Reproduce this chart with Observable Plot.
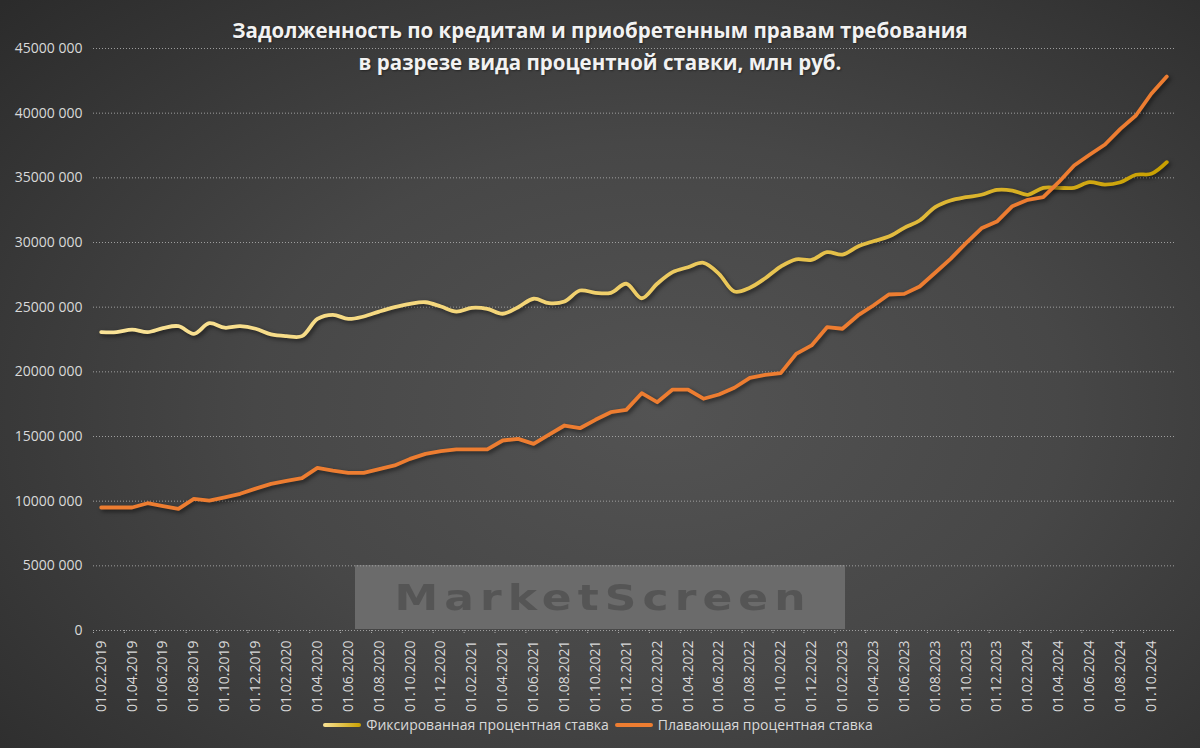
<!DOCTYPE html>
<html><head><meta charset="utf-8">
<script src="https://cdn.jsdelivr.net/npm/d3@7"></script>
<script src="https://cdn.jsdelivr.net/npm/@observablehq/plot@0.6"></script>
<style>
html,body{margin:0;padding:0;}
body{width:1200px;height:748px;overflow:hidden;background:radial-gradient(ellipse 75% 80% at 55% 55%, #535353 0%, #474747 45%, #2b2b2b 100%);font-family:"Open Sans",sans-serif;}
#wrap{position:relative;width:1200px;height:748px;}
#wm{position:absolute;left:355px;top:565px;width:490px;height:64px;background:#6b6b6b;display:flex;align-items:center;justify-content:center;}
#wm span{color:#555;font-family:"DejaVu Sans",sans-serif;font-weight:700;font-size:36px;letter-spacing:5px;display:inline-block;transform:scaleX(1.22);margin-left:5px;}
#chart{position:absolute;left:0;top:0;}
#title{position:absolute;top:14px;left:0;width:1200px;text-align:center;color:#f2f2f2;font-weight:700;font-size:20.5px;line-height:32px;text-shadow:1px 1px 2px rgba(0,0,0,.4);}
#legend{position:absolute;top:715px;left:0;width:1196px;display:flex;justify-content:center;align-items:center;color:#d9d9d9;font-size:14px;}
.sw{display:inline-block;width:38px;height:4px;border-radius:2px;margin-right:5px;}
.item{display:flex;align-items:center;margin:0 3px;}
svg g[aria-label="line"]{filter:drop-shadow(2px 2px 2px rgba(0,0,0,0.55));}
</style></head>
<body><div id="wrap">
<div id="wm"><span>MarketScreen</span></div>
<div id="chart"></div>
<div id="title">Задолженность по кредитам и приобретенным правам требования<br>в разрезе вида процентной ставки, млн руб.</div>
<div id="legend">
 <div class="item"><span class="sw" style="background:linear-gradient(90deg,#fae397,#c9a000)"></span>Фиксированная процентная ставка</div>
 <div class="item"><span class="sw" style="background:#ed7d31"></span>Плавающая процентная ставка</div>
</div>
</div>
<script>
const dates = ["01.02.2019","01.03.2019","01.04.2019","01.05.2019","01.06.2019","01.07.2019","01.08.2019","01.09.2019","01.10.2019","01.11.2019","01.12.2019",
"01.01.2020","01.02.2020","01.03.2020","01.04.2020","01.05.2020","01.06.2020","01.07.2020","01.08.2020","01.09.2020","01.10.2020","01.11.2020","01.12.2020",
"01.01.2021","01.02.2021","01.03.2021","01.04.2021","01.05.2021","01.06.2021","01.07.2021","01.08.2021","01.09.2021","01.10.2021","01.11.2021","01.12.2021",
"01.01.2022","01.02.2022","01.03.2022","01.04.2022","01.05.2022","01.06.2022","01.07.2022","01.08.2022","01.09.2022","01.10.2022","01.11.2022","01.12.2022",
"01.01.2023","01.02.2023","01.03.2023","01.04.2023","01.05.2023","01.06.2023","01.07.2023","01.08.2023","01.09.2023","01.10.2023","01.11.2023","01.12.2023",
"01.01.2024","01.02.2024","01.03.2024","01.04.2024","01.05.2024","01.06.2024","01.07.2024","01.08.2024","01.09.2024","01.10.2024","01.11.2024"];

// values in millions of roubles (multiplied by 1e6 for the axis)
const fixedRate = [23.07,23.07,23.27,23.07,23.38,23.53,22.94,23.76,23.41,23.53,23.33,
22.89,22.76,22.76,24.09,24.41,24.09,24.28,24.66,25.00,25.26,25.38,25.05,
24.66,24.95,24.87,24.49,25.00,25.65,25.31,25.44,26.29,26.11,26.11,26.81,
25.69,26.81,27.71,28.09,28.43,27.58,26.21,26.50,27.24,28.14,28.70,28.66,
29.25,29.07,29.69,30.10,30.46,31.13,31.70,32.73,33.25,33.50,33.69,34.07,
34.02,33.69,34.23,34.23,34.23,34.66,34.48,34.66,35.24,35.31,36.21];

const floatingRate = [9.51,9.51,9.51,9.84,9.62,9.40,10.18,10.05,10.30,10.57,10.97,
11.34,11.56,11.78,12.58,12.37,12.19,12.19,12.47,12.76,13.27,13.66,13.87,
14.00,14.00,14.00,14.69,14.82,14.43,15.15,15.85,15.64,16.29,16.88,17.06,
18.35,17.65,18.63,18.63,17.92,18.25,18.77,19.54,19.77,19.90,21.39,22.04,
23.45,23.33,24.36,25.13,25.98,26.03,26.60,27.66,28.74,29.95,31.10,31.62,
32.81,33.30,33.50,34.66,35.95,36.78,37.58,38.79,39.82,41.50,42.83];

const yTicks = [0,5000000,10000000,15000000,20000000,25000000,30000000,35000000,40000000,45000000];
const xLabelTicks = dates.filter((d,i) => i % 2 === 0);

const seriesNames = ["Фиксированная процентная ставка","Плавающая процентная ставка"];

const fixedData = dates.map((d,i) => ({date:d, value:fixedRate[i]*1e6}));
const floatData = dates.map((d,i) => ({date:d, value:floatingRate[i]*1e6}));

const fmt = v => v === 0 ? "0" : `${Math.floor(v/1000)} ${String(v%1000).padStart(3,"0")}`;

const W = 1200, H = 748, mL = 93, mR = 26, mT = 48, mB = 118;
const step = (W - mL - mR) / dates.length;

const chart = Plot.plot({
  width: W, height: H,
  marginLeft: mL, marginRight: mR, marginTop: mT, marginBottom: mB,
  style: {background:"transparent", fontFamily:"'Open Sans', sans-serif", fontSize:"14px", color:"#d9d9d9", overflow:"visible"},
  x: {type:"point", domain: dates, padding:0.5, axis:null, label:null},
  y: {domain:[0,45000000], axis:null, label:null},
  marks: [
    Plot.gridY(yTicks, {stroke:"#a8a8a8", strokeOpacity:0.9, strokeDasharray:"1,2"}),
    Plot.axisY(yTicks, {tickSize:0, tickPadding:11, tickFormat: fmt, fill:"#d9d9d9", fontSize:14, label:null}),
    Plot.axisX(xLabelTicks, {tickSize:4, dx:-step/2, tickFormat:() => "", stroke:"#a8a8a8", strokeDasharray:"1,1", label:null}),
    Plot.axisX(xLabelTicks, {tickSize:0, tickPadding:10, tickRotate:-90, fill:"#d9d9d9", fontSize:14, label:null}),
    Plot.line(fixedData, {x:"date", y:"value", stroke:"url(#gradFixed)", strokeWidth:3.8, curve:"catmull-rom"}),
    Plot.line(floatData, {x:"date", y:"value", stroke:"#ed7d31", strokeWidth:3.8})
  ]
});
document.getElementById("chart").appendChild(chart);

const svg = d3.select(chart);
const defs = svg.insert("defs", ":first-child");
const g = defs.append("linearGradient").attr("id","gradFixed").attr("x1","0").attr("x2","1").attr("y1","0").attr("y2","0");
[["0%","#fae397"],["40%","#f3d476"],["75%","#e2bb3e"],["100%","#c9a000"]].forEach(([o,c]) => g.append("stop").attr("offset",o).attr("stop-color",c));
</script>
</body></html>
